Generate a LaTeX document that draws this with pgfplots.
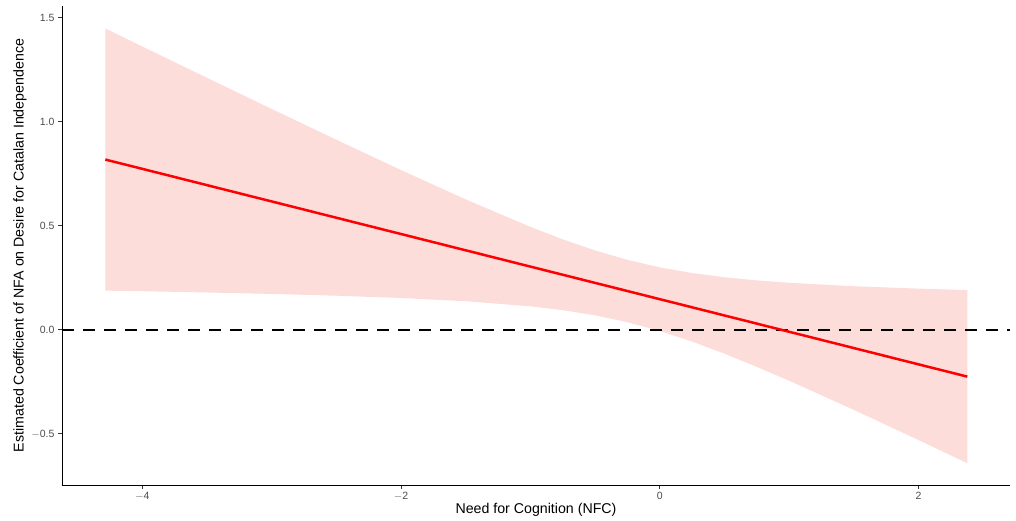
\documentclass[border=0pt]{standalone}
\usepackage{pgfplots}
\pgfplotsset{compat=1.18}
\usepgfplotslibrary{fillbetween}
\usepackage{pgfplotstable}
\usepackage{fontspec}
\setmainfont{Liberation Sans}
\definecolor{bandfill}{HTML}{F8766D}
\definecolor{ticklab}{HTML}{4D4D4D}

\pgfplotstableread{
x      line     up      lo
-4.285 0.8180  1.4480  0.1880
-4.00  0.7734  1.3615  0.1853
-3.50  0.6951  1.2110  0.1792
-3.00  0.6168  1.0614  0.1722
-2.50  0.5385  0.9133  0.1637
-2.00  0.4602  0.7677  0.1527
-1.50  0.3819  0.6266  0.1372
-1.00  0.3036  0.4945  0.1127
-0.75  0.2644  0.4346  0.0942
-0.50  0.2253  0.3812  0.0694
-0.25  0.1862  0.3360  0.0364
 0.00  0.1470  0.2999 -0.0059
 0.25  0.1079  0.2727 -0.0569
 0.50  0.0687  0.2524 -0.1150
 0.75  0.0296  0.2373 -0.1781
 1.00 -0.0096  0.2257 -0.2449
 1.50 -0.0879  0.2092 -0.3850
 2.00 -0.1662  0.1976 -0.5300
 2.377 -0.2252 0.1909 -0.6413
}\datatab

\begin{document}
\begin{tikzpicture}
\begin{axis}[
  name=ax,
  scale only axis,
  width=948pt, height=479pt,
  xmin=-4.62, xmax=2.707,
  ymin=-0.746, ymax=1.556,
  axis x line*=bottom, axis y line*=left,
  axis line style={-, line width=0.9pt, black},
  xtick={-4,-2,0,2},
  xticklabels={$-$4,$-$2,0,2},
  ytick={-0.5,0,0.5,1,1.5},
  yticklabels={$-$0.5,0.0,0.5,1.0,1.5},
  tick align=outside,
  major tick length=4pt,
  tick style={line width=0.8pt, black!80},
  ticklabel style={font=\fontsize{10.5}{12}\selectfont, text=ticklab},
  xlabel={Need for Cognition (NFC)},
  ylabel={Estimated Coefficient of NFA on Desire for Catalan Independence},
  label style={font=\fontsize{14.2}{16}\selectfont},
  xlabel style={yshift=4pt},
  ylabel style={yshift=-2pt},
  clip=false,
]
\addplot[black, line width=2.4pt, dash pattern=on 12pt off 9pt] coordinates {(-4.62,0) (2.707,0)};
\addplot[draw=none, forget plot, name path=upper] table[x=x, y=up] {\datatab};
\addplot[draw=none, forget plot, name path=lower] table[x=x, y=lo] {\datatab};
\addplot[draw=none, fill=bandfill, fill opacity=0.25] fill between[of=upper and lower];
\addplot[red, line width=2.5pt] table[x=x, y=line] {\datatab};
\end{axis}
\path ([xshift=-62pt,yshift=-36pt]ax.south west) rectangle ([xshift=6pt,yshift=6pt]ax.north east);
\end{tikzpicture}
\end{document}
